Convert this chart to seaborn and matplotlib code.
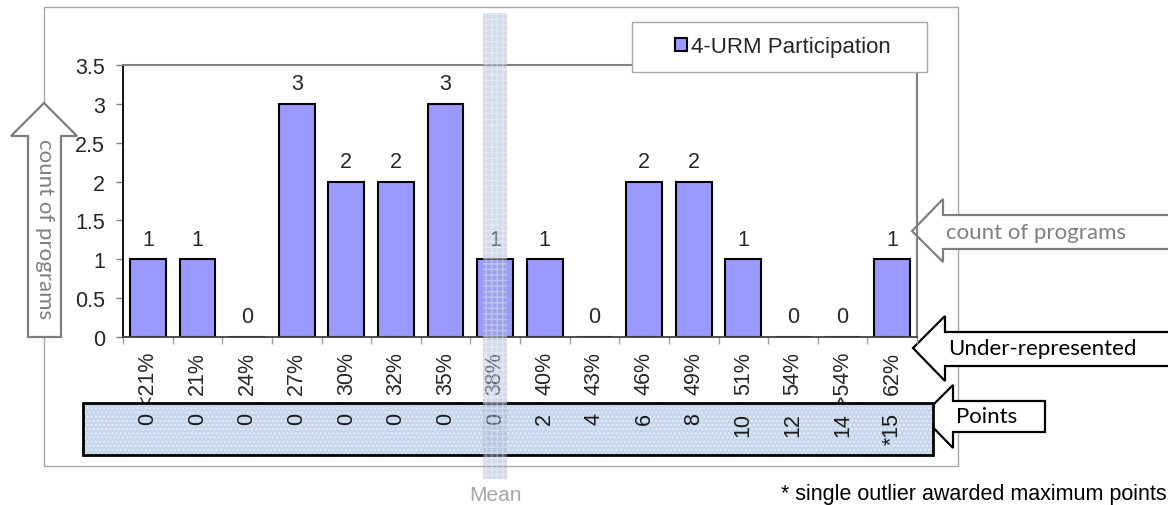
import numpy as np
import pandas as pd
import matplotlib
matplotlib.use("Agg")
import matplotlib.pyplot as plt
import matplotlib.transforms as mtransforms
from matplotlib.patches import Rectangle, Polygon
from matplotlib.ticker import FixedLocator
import seaborn as sns

# Chart data
categories = ["<21%", "21%", "24%", "27%", "30%", "32%", "35%", "38%",
              "40%", "43%", "46%", "49%", "51%", "54%", ">54%", "62%"]
counts = [1, 1, 0, 3, 2, 2, 3, 1, 1, 0, 2, 2, 1, 0, 0, 1]
points = ["0", "0", "0", "0", "0", "0", "0", "0",
          "2", "4", "6", "8", "10", "12", "14", "*15"]
mean_category = "38%"
series_name = "4-URM Participation"
y_ticks = [0, 0.5, 1, 1.5, 2, 2.5, 3, 3.5]

df = pd.DataFrame({"category": categories, "count": counts})

sns.set_theme(style="white")
plt.rcParams["font.family"] = ["Liberation Sans", "DejaVu Sans"]

FS = 15.5       # chart text size
CFS = 16        # callout text size

W, H = 1168, 506
fig = plt.figure(figsize=(W / 100, H / 100), dpi=100)

# overlay in pixel coordinates for frame and callout arrows (behind the chart)
ov = fig.add_axes([0, 0, 1, 1])
ov.set_xlim(0, W)
ov.set_ylim(H, 0)
ov.axis("off")

ov.add_patch(Rectangle((44, 8), 914, 459, fill=False, edgecolor="#A6A6A6", lw=1.0, zorder=1))

def block_arrow(pts, color):
    ov.add_patch(Polygon(pts, closed=True, facecolor="white", edgecolor=color, lw=1.6, zorder=3))

callout_font = ["Lato", "DejaVu Sans"]
# left, pointing up
block_arrow([(44, 104), (77, 137), (61, 137), (61, 338), (28, 338), (28, 137), (11, 137)], "#7F7F7F")
ov.text(45, 229, "count of programs", rotation=-90, ha="center", va="center",
        color="#7F7F7F", fontsize=CFS, family=callout_font, zorder=4)
# right, count of programs
block_arrow([(912, 232), (943, 200), (943, 216), (1175, 216), (1175, 250), (943, 250), (943, 263)], "#7F7F7F")
ov.text(946, 233, "count of programs", ha="left", va="center",
        color="#7F7F7F", fontsize=CFS, family=callout_font, zorder=4)
# under-represented
block_arrow([(913, 349), (945, 317), (945, 333), (1175, 333), (1175, 367), (945, 367), (945, 382)], "black")
ov.text(948, 349, "Under-represented", ha="left", va="center",
        color="black", fontsize=CFS, family=callout_font, zorder=4)
# points
block_arrow([(922, 417), (953, 386), (953, 402), (1045, 402), (1045, 433), (953, 433), (953, 449)], "black")
ov.text(956, 417, "Points", ha="left", va="center",
        color="black", fontsize=CFS, family=callout_font, zorder=4)

# main chart
ax = fig.add_axes([123 / W, 1 - 338 / H, 794 / W, 272 / H])
ax.set_facecolor("none")
sns.barplot(data=df, x="category", y="count", color="#9999FF", saturation=1,
            edgecolor="black", linewidth=1.5, width=0.72, label=series_name, ax=ax)
ax.bar_label(ax.containers[0], padding=7, fontsize=FS)

ax.set_xlim(-0.5, len(categories) - 0.5)
ax.set_ylim(0, 3.5)
ax.set_yticks(y_ticks)
ax.set_yticklabels([f"{t:g}" for t in y_ticks])
ax.set_xlabel("")
ax.set_ylabel("")
ax.tick_params(axis="y", left=True, length=5, width=1, color="#808080", pad=8, labelsize=FS)
ax.tick_params(axis="x", which="major", bottom=True, length=0, pad=10, labelsize=FS, labelrotation=90)
ax.xaxis.set_minor_locator(FixedLocator(np.arange(len(categories) + 1) - 0.5))
ax.tick_params(axis="x", which="minor", bottom=True, length=5, width=1, color="#A0A0A0")
for lab in ax.get_xticklabels():
    lab.set_va("top")

ax.spines["left"].set_color("black")
ax.spines["left"].set_linewidth(1.3)
ax.spines["bottom"].set_color("#404040")
ax.spines["bottom"].set_linewidth(1.3)
for s in ["top", "right"]:
    ax.spines[s].set_color("#808080")
    ax.spines[s].set_linewidth(1.5)

# legend box
ax.add_patch(Rectangle((632 / W, 1 - 73 / H), 295 / W, 50 / H, transform=fig.transFigure,
                       facecolor="white", edgecolor="#A6A6A6", lw=1.0, zorder=4, clip_on=False))
ax.legend(loc="center", bbox_to_anchor=(783 / W, 1 - 48 / H), bbox_transform=fig.transFigure,
          frameon=False, fontsize=16, handlelength=0.55, handleheight=0.55, handletextpad=0.2,
          borderpad=0).set_zorder(5)

# points strip
box = dict(transform=fig.transFigure, clip_on=False)
ax.add_patch(Rectangle((83 / W, 1 - 456 / H), 850 / W, 52 / H, facecolor="#C6D6EC", edgecolor="none", zorder=3, **box))
ax.add_patch(Rectangle((83 / W, 1 - 456 / H), 850 / W, 52 / H, fill=False, hatch="....", edgecolor="#E6EEF8", lw=0, zorder=3.1, **box))
ax.add_patch(Rectangle((83 / W, 1 - 456 / H), 850 / W, 52 / H, fill=False, edgecolor="black", lw=2, zorder=3.2, **box))
for i, p in enumerate(points):
    ax.text(i, (338 - 413) / 272, p, transform=ax.get_xaxis_transform(), rotation=90,
            ha="center", va="top", fontsize=FS, color="#1A1A1A", zorder=3.5, clip_on=False)

# mean band
mi = categories.index(mean_category)
blend = mtransforms.blended_transform_factory(ax.transData, fig.transFigure)
ax.add_patch(Rectangle((mi - 0.242, 1 - 480 / H), 0.484, 466 / H, transform=blend,
                       facecolor="#9FB0CC", alpha=0.45, edgecolor="none", zorder=6, clip_on=False))
ax.add_patch(Rectangle((mi - 0.242, 1 - 480 / H), 0.484, 466 / H, transform=blend,
                       fill=False, hatch="+++", edgecolor="#FFFFFF", alpha=0.35, lw=0, zorder=6.1, clip_on=False))
ax.text(mi, 1 - 496 / H, "Mean", transform=blend, ha="center", va="center",
        fontsize=15, color="#A6A6A6", clip_on=False)

fig.text(781 / W, 1 - 495 / H, "* single outlier awarded maximum points", ha="left", va="center",
         fontsize=15.5, color="black")

fig.savefig("out.png", dpi=100)
